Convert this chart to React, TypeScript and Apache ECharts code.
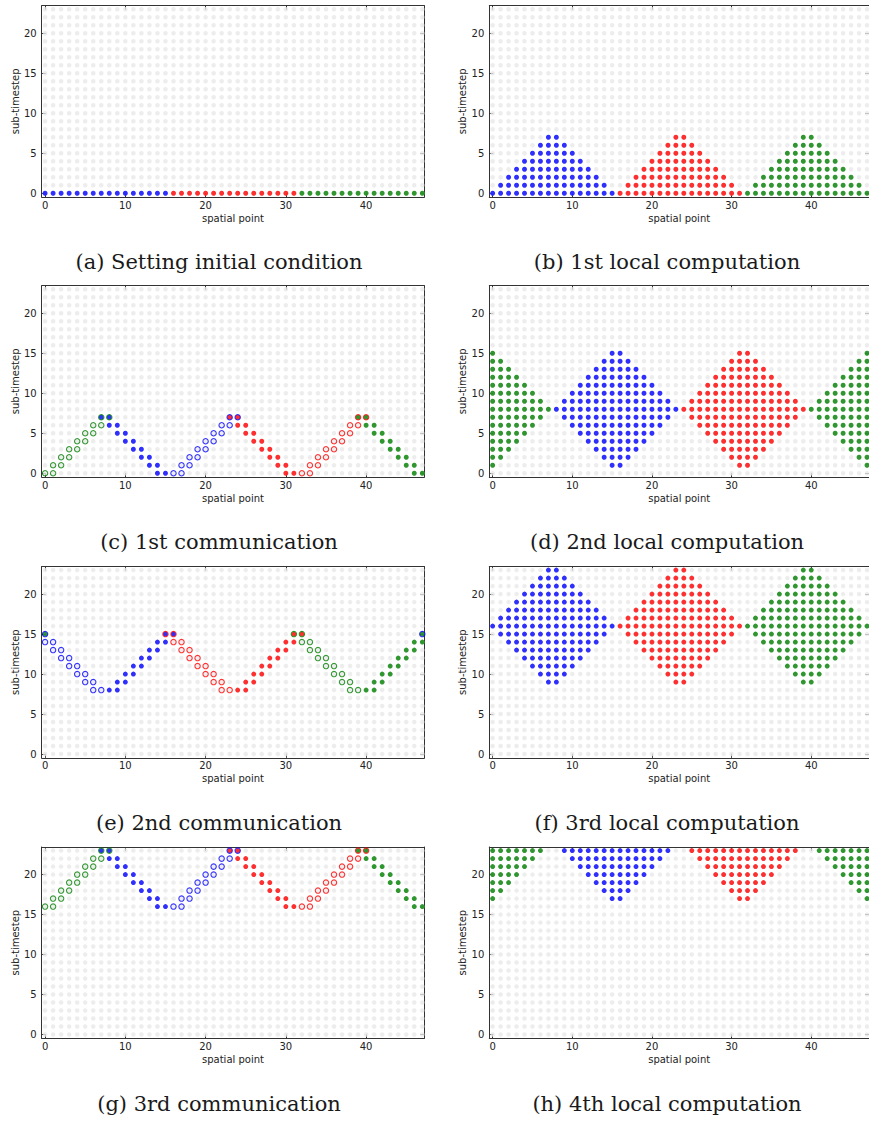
import React, { useEffect, useRef } from 'react';
import * as echarts from 'echarts';

type Span = [number, number, number]; // [sub-timestep, first spatial point, last spatial point]

const spatialPoints = [
  0, 1, 2, 3, 4, 5, 6, 7, 8, 9, 10, 11, 12, 13, 14, 15,
  16, 17, 18, 19, 20, 21, 22, 23, 24, 25, 26, 27, 28, 29, 30, 31,
  32, 33, 34, 35, 36, 37, 38, 39, 40, 41, 42, 43, 44, 45, 46, 47,
];
const subTimesteps = [
  0, 1, 2, 3, 4, 5, 6, 7, 8, 9, 10, 11, 12, 13, 14, 15, 16, 17, 18, 19, 20, 21, 22, 23,
];
const xTickValues = [0, 10, 20, 30, 40];
const yTickValues = [0, 5, 10, 15, 20];
const captions = [
  '(a) Setting initial condition',
  '(b) 1st local computation',
  '(c) 1st communication',
  '(d) 2nd local computation',
  '(e) 2nd communication',
  '(f) 3rd local computation',
  '(g) 3rd communication',
  '(h) 4th local computation',
];

// (a) initial condition
const blueA: Span[] = [[0, 0, 15]];
const redA: Span[] = [[0, 16, 31]];
const greenA: Span[] = [[0, 32, 47]];

// (b) 1st local computation
const blueB: Span[] = [[0, 0, 15], [1, 1, 14], [2, 2, 13], [3, 3, 12], [4, 4, 11], [5, 5, 10], [6, 6, 9], [7, 7, 8]];
const redB: Span[] = [[0, 16, 31], [1, 17, 30], [2, 18, 29], [3, 19, 28], [4, 20, 27], [5, 21, 26], [6, 22, 25], [7, 23, 24]];
const greenB: Span[] = [[0, 32, 47], [1, 33, 46], [2, 34, 45], [3, 35, 44], [4, 36, 43], [5, 37, 42], [6, 38, 41], [7, 39, 40]];

// (c) 1st communication
const blueC: Span[] = [[0, 14, 15], [1, 13, 14], [2, 12, 13], [3, 11, 12], [4, 10, 11], [5, 9, 10], [6, 8, 9], [7, 7, 8]];
const redC: Span[] = [[0, 30, 31], [1, 29, 30], [2, 28, 29], [3, 27, 28], [4, 26, 27], [5, 25, 26], [6, 24, 25], [7, 23, 24]];
const greenC: Span[] = [[0, 46, 47], [1, 45, 46], [2, 44, 45], [3, 43, 44], [4, 42, 43], [5, 41, 42], [6, 40, 41], [7, 39, 40]];
const blueOpenC: Span[] = [[0, 16, 17], [1, 17, 18], [2, 18, 19], [3, 19, 20], [4, 20, 21], [5, 21, 22], [6, 22, 23], [7, 23, 24]];
const redOpenC: Span[] = [[0, 32, 33], [1, 33, 34], [2, 34, 35], [3, 35, 36], [4, 36, 37], [5, 37, 38], [6, 38, 39], [7, 39, 40]];
const greenOpenC: Span[] = [[0, 0, 1], [1, 1, 2], [2, 2, 3], [3, 3, 4], [4, 4, 5], [5, 5, 6], [6, 6, 7], [7, 7, 8]];

// (d) 2nd local computation
const blueD: Span[] = [
  [1, 15, 16], [2, 14, 17], [3, 13, 18], [4, 12, 19], [5, 11, 20], [6, 10, 21], [7, 9, 22], [8, 8, 23],
  [9, 9, 22], [10, 10, 21], [11, 11, 20], [12, 12, 19], [13, 13, 18], [14, 14, 17], [15, 15, 16],
];
const redD: Span[] = [
  [1, 31, 32], [2, 30, 33], [3, 29, 34], [4, 28, 35], [5, 27, 36], [6, 26, 37], [7, 25, 38], [8, 24, 39],
  [9, 25, 38], [10, 26, 37], [11, 27, 36], [12, 28, 35], [13, 29, 34], [14, 30, 33], [15, 31, 32],
];
const greenD: Span[] = [
  [1, 47, 47], [1, 0, 0], [2, 46, 47], [2, 0, 1], [3, 45, 47], [3, 0, 2], [4, 44, 47], [4, 0, 3],
  [5, 43, 47], [5, 0, 4], [6, 42, 47], [6, 0, 5], [7, 41, 47], [7, 0, 6], [8, 40, 47], [8, 0, 7],
  [9, 41, 47], [9, 0, 6], [10, 42, 47], [10, 0, 5], [11, 43, 47], [11, 0, 4], [12, 44, 47], [12, 0, 3],
  [13, 45, 47], [13, 0, 2], [14, 46, 47], [14, 0, 1], [15, 47, 47], [15, 0, 0],
];

// (e) 2nd communication
const blueE: Span[] = [[8, 8, 9], [9, 9, 10], [10, 10, 11], [11, 11, 12], [12, 12, 13], [13, 13, 14], [14, 14, 15], [15, 15, 16]];
const redE: Span[] = [[8, 24, 25], [9, 25, 26], [10, 26, 27], [11, 27, 28], [12, 28, 29], [13, 29, 30], [14, 30, 31], [15, 31, 32]];
const greenE: Span[] = [[8, 40, 41], [9, 41, 42], [10, 42, 43], [11, 43, 44], [12, 44, 45], [13, 45, 46], [14, 46, 47], [15, 47, 47], [15, 0, 0]];
const blueOpenE: Span[] = [[8, 6, 7], [9, 5, 6], [10, 4, 5], [11, 3, 4], [12, 2, 3], [13, 1, 2], [14, 0, 1], [15, 47, 47], [15, 0, 0]];
const redOpenE: Span[] = [[8, 22, 23], [9, 21, 22], [10, 20, 21], [11, 19, 20], [12, 18, 19], [13, 17, 18], [14, 16, 17], [15, 15, 16]];
const greenOpenE: Span[] = [[8, 38, 39], [9, 37, 38], [10, 36, 37], [11, 35, 36], [12, 34, 35], [13, 33, 34], [14, 32, 33], [15, 31, 32]];

// (f) 3rd local computation
const blueF: Span[] = [
  [9, 7, 8], [10, 6, 9], [11, 5, 10], [12, 4, 11], [13, 3, 12], [14, 2, 13], [15, 1, 14], [16, 0, 15],
  [17, 1, 14], [18, 2, 13], [19, 3, 12], [20, 4, 11], [21, 5, 10], [22, 6, 9], [23, 7, 8],
];
const redF: Span[] = [
  [9, 23, 24], [10, 22, 25], [11, 21, 26], [12, 20, 27], [13, 19, 28], [14, 18, 29], [15, 17, 30], [16, 16, 31],
  [17, 17, 30], [18, 18, 29], [19, 19, 28], [20, 20, 27], [21, 21, 26], [22, 22, 25], [23, 23, 24],
];
const greenF: Span[] = [
  [9, 39, 40], [10, 38, 41], [11, 37, 42], [12, 36, 43], [13, 35, 44], [14, 34, 45], [15, 33, 46], [16, 32, 47],
  [17, 33, 46], [18, 34, 45], [19, 35, 44], [20, 36, 43], [21, 37, 42], [22, 38, 41], [23, 39, 40],
];

// (g) 3rd communication
const blueG: Span[] = [[16, 14, 15], [17, 13, 14], [18, 12, 13], [19, 11, 12], [20, 10, 11], [21, 9, 10], [22, 8, 9], [23, 7, 8]];
const redG: Span[] = [[16, 30, 31], [17, 29, 30], [18, 28, 29], [19, 27, 28], [20, 26, 27], [21, 25, 26], [22, 24, 25], [23, 23, 24]];
const greenG: Span[] = [[16, 46, 47], [17, 45, 46], [18, 44, 45], [19, 43, 44], [20, 42, 43], [21, 41, 42], [22, 40, 41], [23, 39, 40]];
const blueOpenG: Span[] = [[16, 16, 17], [17, 17, 18], [18, 18, 19], [19, 19, 20], [20, 20, 21], [21, 21, 22], [22, 22, 23], [23, 23, 24]];
const redOpenG: Span[] = [[16, 32, 33], [17, 33, 34], [18, 34, 35], [19, 35, 36], [20, 36, 37], [21, 37, 38], [22, 38, 39], [23, 39, 40]];
const greenOpenG: Span[] = [[16, 0, 1], [17, 1, 2], [18, 2, 3], [19, 3, 4], [20, 4, 5], [21, 5, 6], [22, 6, 7], [23, 7, 8]];

// (h) 4th local computation
const blueH: Span[] = [[17, 15, 16], [18, 14, 17], [19, 13, 18], [20, 12, 19], [21, 11, 20], [22, 10, 21], [23, 9, 22]];
const redH: Span[] = [[17, 31, 32], [18, 30, 33], [19, 29, 34], [20, 28, 35], [21, 27, 36], [22, 26, 37], [23, 25, 38]];
const greenH: Span[] = [
  [17, 47, 47], [17, 0, 0], [18, 46, 47], [18, 0, 1], [19, 45, 47], [19, 0, 2], [20, 44, 47], [20, 0, 3],
  [21, 43, 47], [21, 0, 4], [22, 42, 47], [22, 0, 5], [23, 41, 47], [23, 0, 6],
];

const BLUE = '#0000ff';
const RED = '#ff0000';
const GREEN = '#008000';
const GRAY = '#e8e8e8';
const AXIS = '#333333';

type Panel = { filled: [Span[], Span[], Span[]]; open: [Span[], Span[], Span[]] };
const panels: Panel[] = [
  { filled: [blueA, redA, greenA], open: [[], [], []] },
  { filled: [blueB, redB, greenB], open: [[], [], []] },
  { filled: [blueC, redC, greenC], open: [blueOpenC, redOpenC, greenOpenC] },
  { filled: [blueD, redD, greenD], open: [[], [], []] },
  { filled: [blueE, redE, greenE], open: [blueOpenE, redOpenE, greenOpenE] },
  { filled: [blueF, redF, greenF], open: [[], [], []] },
  { filled: [blueG, redG, greenG], open: [blueOpenG, redOpenG, greenOpenG] },
  { filled: [blueH, redH, greenH], open: [[], [], []] },
];

const expand = (spans: Span[]) =>
  spans.flatMap(([t, x0, x1]) => spatialPoints.filter((x) => x >= x0 && x <= x1).map((x) => [x, t]));

const background = subTimesteps.flatMap((t) => spatialPoints.map((x) => [x, t]));

const ROW_TOPS = [5.7, 285.7, 566.5, 847];
const COL_LEFTS = [41.7, 489.3];
const GRID_W = 382.6;
const GRID_H = 191.3;
const CAPTION_Y = [262, 542, 823, 1104];
const CAPTION_X = [219, 667];

function buildOption() {
  const grid: any[] = [];
  const xAxis: any[] = [];
  const yAxis: any[] = [];
  const series: any[] = [];
  const graphic: any[] = [];
  const tickLabel = { fontSize: 10, fontFamily: 'DejaVu Sans', color: '#222' };

  panels.forEach((p, i) => {
    const row = Math.floor(i / 2);
    const col = i % 2;
    grid.push({ left: COL_LEFTS[col], top: ROW_TOPS[row], width: GRID_W, height: GRID_H, containLabel: false });
    const xBase = {
      type: 'value', gridIndex: i, min: -0.42, max: 47.25, splitLine: { show: false },
      axisLine: { show: true, onZero: false, lineStyle: { color: AXIS, width: 1 } },
      axisTick: { show: true, inside: true, length: 4, customValues: xTickValues, lineStyle: { color: AXIS, width: 1 } },
    };
    xAxis.push({
      ...xBase, position: 'bottom',
      axisLabel: { ...tickLabel, margin: 3, customValues: xTickValues },
      name: 'spatial point', nameLocation: 'middle', nameGap: 16,
      nameTextStyle: { ...tickLabel },
    });
    xAxis.push({ ...xBase, position: 'top', axisLabel: { show: false } });
    const yBase = {
      type: 'value', gridIndex: i, min: -0.47, max: 23.45, splitLine: { show: false },
      axisLine: { show: true, onZero: false, lineStyle: { color: AXIS, width: 1 } },
      axisTick: { show: true, inside: true, length: 4, customValues: yTickValues, lineStyle: { color: AXIS, width: 1 } },
    };
    yAxis.push({
      ...yBase, position: 'left',
      axisLabel: { ...tickLabel, margin: 5, customValues: yTickValues },
      name: 'sub-timestep', nameLocation: 'middle', nameGap: 20, nameRotate: 90,
      nameTextStyle: { ...tickLabel },
    });
    yAxis.push({ ...yBase, position: 'right', axisLabel: { show: false } });

    const ax = { xAxisIndex: 2 * i, yAxisIndex: 2 * i };
    series.push({
      type: 'scatter', ...ax, data: background, symbol: 'circle', symbolSize: 4.5,
      itemStyle: { color: GRAY }, z: 1, silent: true,
    });
    const colors = [BLUE, RED, GREEN];
    p.filled.forEach((spans, c) => {
      if (!spans.length) return;
      series.push({
        type: 'scatter', ...ax, data: expand(spans), symbol: 'circle', symbolSize: 5,
        itemStyle: { color: colors[c] }, z: 2, silent: true,
      });
    });
    p.open.forEach((spans, c) => {
      if (!spans.length) return;
      series.push({
        type: 'scatter', ...ax, data: expand(spans), symbol: 'circle', symbolSize: 5.4,
        itemStyle: { color: 'rgba(0,0,0,0)', borderColor: colors[c], borderWidth: 1.1 }, z: 3, silent: true,
      });
    });

    graphic.push({
      type: 'text', x: CAPTION_X[col], y: CAPTION_Y[row],
      style: {
        text: captions[i], font: '21px "DejaVu Serif"', fill: '#1a1a1a',
        align: 'center', verticalAlign: 'middle', textAlign: 'center', textVerticalAlign: 'middle',
      },
    });
  });

  return { animation: false, backgroundColor: '#ffffff', grid, xAxis, yAxis, series, graphic };
}

export default function App() {
  const ref = useRef<HTMLDivElement>(null);
  useEffect(() => {
    if (!ref.current) return;
    const chart = echarts.init(ref.current, undefined, { renderer: 'svg' });
    chart.setOption(buildOption() as any);
    return () => chart.dispose();
  }, []);
  return (
    <div
      ref={ref}
      style={{ position: 'absolute', left: 0, top: 0, width: 869, height: 1123, background: '#fff' }}
    />
  );
}
